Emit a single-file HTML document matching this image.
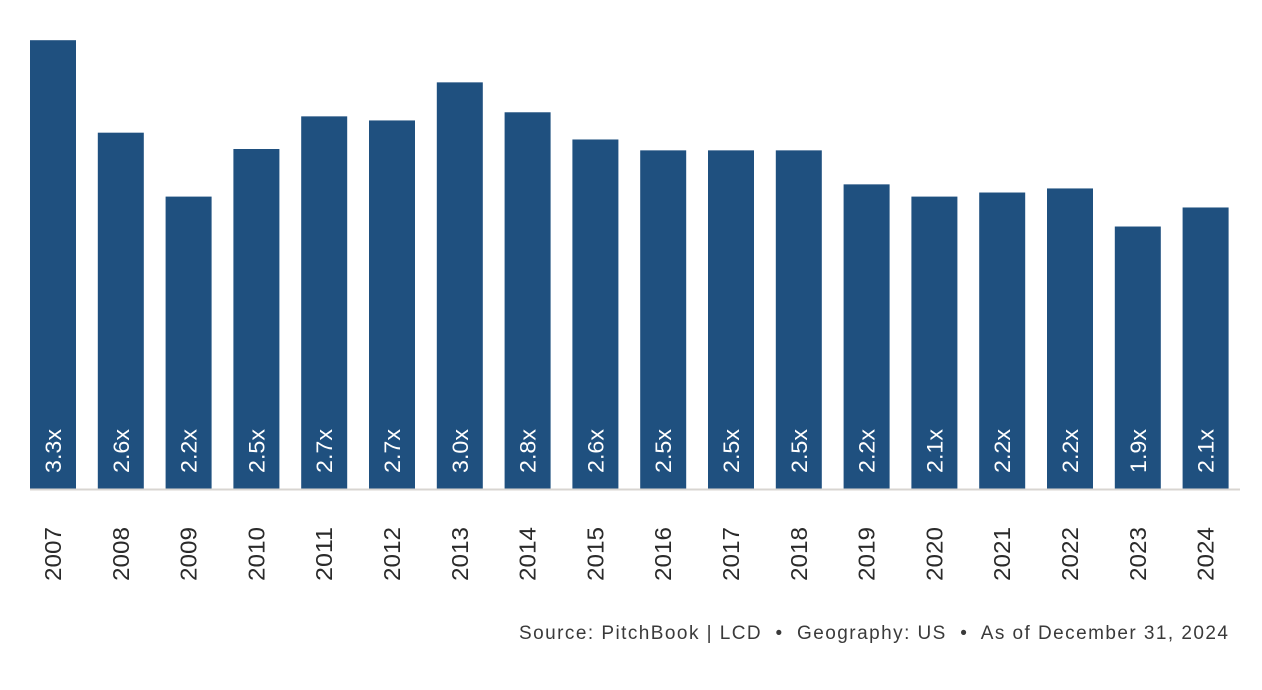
<!DOCTYPE html>
<html><head><meta charset="utf-8">
<style>
html,body{margin:0;padding:0;background:#fff;width:1262px;height:690px;overflow:hidden}
svg{display:block}
text{font-family:"Liberation Sans",sans-serif;white-space:pre}
</style></head>
<body>
<svg id="chart" width="1262" height="690" viewBox="0 0 1262 690">
<g id="bars"></g>
<line x1="30" y1="489.5" x2="1240" y2="489.5" stroke="#d8d5d1" stroke-width="2"/>
<g id="xlabels"></g>
<text x="519" y="639" font-size="19" fill="#3a3a3a" textLength="709" lengthAdjust="spacing" xml:space="preserve">Source: PitchBook | LCD  •  Geography: US  •  As of December 31, 2024</text>
</svg>
<script>
const years = ["2007","2008","2009","2010","2011","2012","2013","2014","2015","2016","2017","2018","2019","2020","2021","2022","2023","2024"];
const values = [3.30,2.62,2.15,2.50,2.74,2.71,2.99,2.77,2.57,2.49,2.49,2.49,2.24,2.15,2.18,2.21,1.93,2.07];
const valueLabels = ["3.3x","2.6x","2.2x","2.5x","2.7x","2.7x","3.0x","2.8x","2.6x","2.5x","2.5x","2.5x","2.2x","2.1x","2.2x","2.2x","1.9x","2.1x"];

const NS = "http://www.w3.org/2000/svg";
const baseY = 489, pxPerUnit = 136, x0 = 30, pitch = 67.8, bw = 46;
function xPos(i){ return x0 + i*pitch; }
function yPos(v){ return baseY - v*pxPerUnit; }
const gb = document.getElementById('bars');
const gx = document.getElementById('xlabels');
years.forEach((yr,i)=>{
  const x = xPos(i), y = yPos(values[i]);
  const r = document.createElementNS(NS,'rect');
  r.setAttribute('x', x); r.setAttribute('y', y);
  r.setAttribute('width', bw); r.setAttribute('height', baseY - y);
  r.setAttribute('fill', '#1f507f');
  
  
  gb.appendChild(r);
  const cx = x + bw/2;
  const t = document.createElementNS(NS,'text');
  t.setAttribute('transform', `translate(${cx+8},473) rotate(-90)`);
  t.setAttribute('font-size', '22');
  t.setAttribute('fill', '#ffffff');
  t.setAttribute('textLength', '44');
  t.setAttribute('lengthAdjust', 'spacingAndGlyphs');
  t.textContent = valueLabels[i];
  
  
  gb.appendChild(t);
  const l = document.createElementNS(NS,'text');
  l.setAttribute('transform', `translate(${cx+8},581) rotate(-90)`);
  l.setAttribute('font-size', '23');
  l.setAttribute('fill', '#2a2a2a');
  l.setAttribute('textLength', '54');
  l.setAttribute('lengthAdjust', 'spacingAndGlyphs');
  l.textContent = yr;
  
  
  gx.appendChild(l);
});
</script>
</body></html>
